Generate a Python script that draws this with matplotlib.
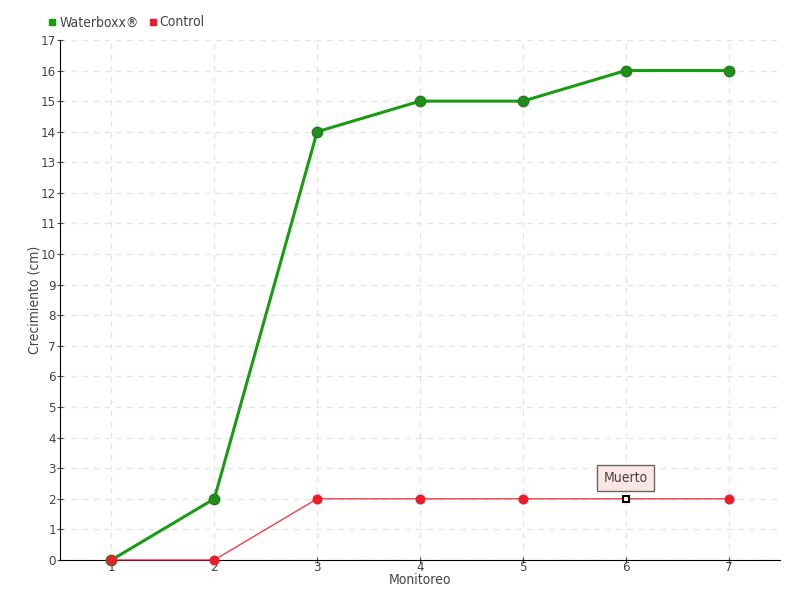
import matplotlib
matplotlib.use("Agg")
import matplotlib.pyplot as plt
from matplotlib.lines import Line2D

plt.rcParams['font.family'] = ['DejaVu Sans']
plt.rcParams['font.stretch'] = 'condensed'

monitoreo = [1, 2, 3, 4, 5, 6, 7]
waterboxx = [0, 2, 14, 15, 15, 16, 16]
control = [0, 0, 2, 2, 2, 2, 2]
muerto_idx = 5
y_ticks = list(range(0, 18))

txt = '#444444'
green = '#1a9c12'
red = '#ee1c2a'

fig = plt.figure(figsize=(8, 6), dpi=100)
ax = fig.add_axes([0.075, 0.0667, 0.9, 0.8667])

ax.plot(monitoreo, waterboxx, color=green, lw=2.2, marker='o', ms=7.5,
        mfc='#1f8f1a', mec='#2a7a22', zorder=3, clip_on=False)
ax.plot(monitoreo, control, color=red, lw=1, alpha=0.85, zorder=4, clip_on=False)
ax.plot([m for i, m in enumerate(monitoreo) if i != muerto_idx],
        [c for i, c in enumerate(control) if i != muerto_idx],
        ls='none', marker='o', ms=6.2, color=red, zorder=5, clip_on=False)
ax.plot(monitoreo[muerto_idx], control[muerto_idx], ls='none', marker='s',
        ms=5, mfc='white', mec='black', mew=1.5, zorder=6)
ax.annotate('Muerto', (monitoreo[muerto_idx], control[muerto_idx]),
            xytext=(0, 15), textcoords='offset points', ha='center', va='center',
            fontsize=10, color=txt,
            bbox=dict(boxstyle='square,pad=0.45', fc='#fde6e6', ec='#666666', lw=1))

ax.set_xlim(0.5, 7.5)
ax.set_ylim(0, 17)
ax.set_xticks(monitoreo)
ax.set_yticks(y_ticks)
ax.grid(True, ls=(0, (4, 4)), color='#e4e4e4', lw=1)
ax.set_axisbelow(True)
for s in ['top', 'right']:
    ax.spines[s].set_visible(False)
ax.spines['left'].set_color('black')
ax.spines['bottom'].set_color('black')
ax.tick_params(colors=txt, labelsize=9.5, length=4, direction='inout')
ax.tick_params(axis='x', pad=-1)
ax.tick_params(axis='y', pad=1)
ax.set_xlabel('Monitoreo', color=txt, fontsize=10, labelpad=-1)
ax.set_ylabel('Crecimiento (cm)', color=txt, fontsize=10, labelpad=-1)

handles = [Line2D([], [], ls='none', marker='s', ms=4.5, color=green),
           Line2D([], [], ls='none', marker='s', ms=4.5, color=red)]
fig.legend(handles, ['Waterboxx®', 'Control'], loc='upper left',
           bbox_to_anchor=(0.043, 0.995), ncol=2, frameon=False, fontsize=10,
           handletextpad=0.1, columnspacing=0.6, handlelength=0.8,
           labelcolor=txt)

fig.savefig('out.png', dpi=100)
